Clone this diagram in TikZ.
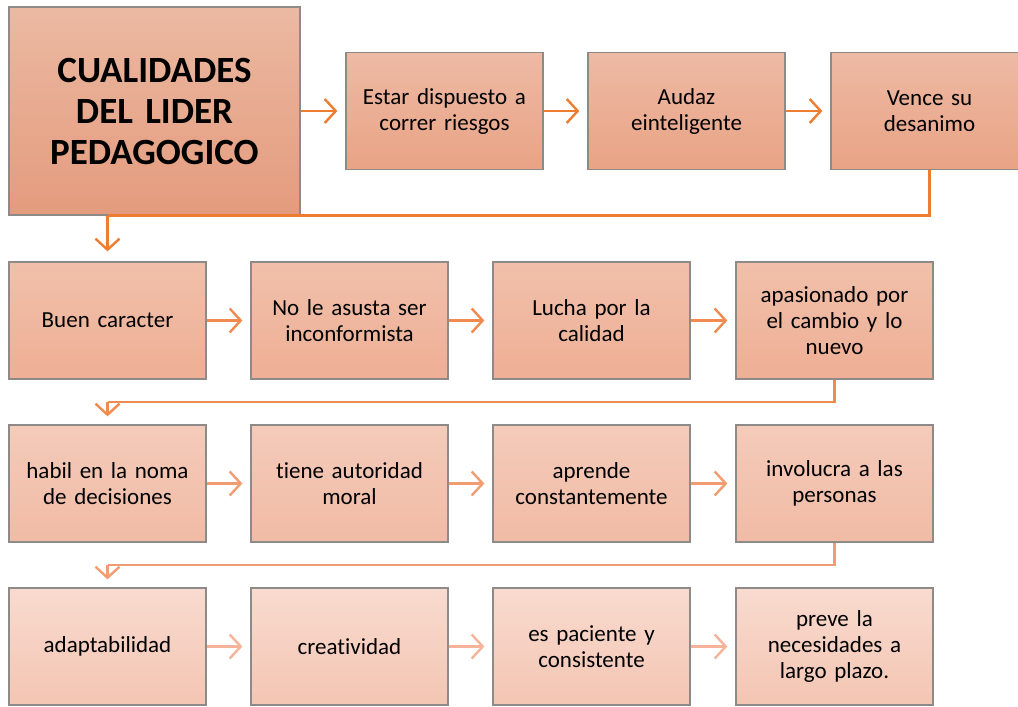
\documentclass[tikz,border=0pt]{standalone}
\usepackage{fontspec}
\setmainfont{Carlito}[Ligatures=NoCommon]
\usetikzlibrary{arrows.meta}
\definecolor{tA}{HTML}{EBB9A2}
\definecolor{tB}{HTML}{E49B7D}
\definecolor{rzA}{HTML}{EDBAA4}
\definecolor{rzB}{HTML}{E9A385}
\definecolor{roA}{HTML}{F1C0AA}
\definecolor{roB}{HTML}{EEAF95}
\definecolor{rtA}{HTML}{F4CBBA}
\definecolor{rtB}{HTML}{F1BBA5}
\definecolor{rhA}{HTML}{F8DBCF}
\definecolor{rhB}{HTML}{F4C5B3}
\definecolor{azero}{HTML}{ED7D31}
\definecolor{aone}{HTML}{EF8A50}
\definecolor{atwo}{HTML}{F29C72}
\definecolor{athree}{HTML}{F5B49A}
\definecolor{bord}{HTML}{8E8A88}
\begin{document}
\begin{tikzpicture}[x=1pt,y=-1pt,
  box/.style={rectangle,draw=bord,line width=1.3pt,minimum width=197pt,minimum height=117pt,
    text width=195pt,align=center,font=\fontsize{23}{26}\selectfont,inner sep=0pt},
  bz/.style={box,top color=rzA,bottom color=rzB},
  bo/.style={box,top color=roA,bottom color=roB},
  bt/.style={box,top color=rtA,bottom color=rtB},
  bh/.style={box,top color=rhA,bottom color=rhB},
  arr/.style={line width=2.4pt,-{Straight Barb[length=11pt,width=24pt]}},
  lnk/.style={line width=2.4pt},
]
\clip (0,0) rectangle (1018,707);
\fill[white] (0,0) rectangle (1018,707);
% title
\node[rectangle,draw=bord,line width=1.3pt,minimum width=291pt,minimum height=208pt,
  top color=tA,bottom color=tB,text width=285pt,align=center,inner sep=0pt,
  font=\fontsize{37}{41}\selectfont\bfseries] (title) at (154.5,111)
  {CUALIDADES\\DEL LIDER\\PEDAGOGICO};
% row 0
\node[bz] (estar) at (444.5,111) {Estar dispuesto a\\correr riesgos};
\node[bz] (audaz) at (686.5,111) {Audaz\\einteligente};
\node[bz] (vence) at (929.5,111) {Vence su\\desanimo};
% row 1
\node[bo] (buen) at (107.5,320.5) {Buen caracter};
\node[bo] (nole) at (349.5,320.5) {No le asusta ser\\inconformista};
\node[bo] (lucha) at (591.5,320.5) {Lucha por la\\calidad};
\node[bo] (apas) at (834.5,320.5) {apasionado por\\el cambio y lo\\nuevo};
% row 2
\node[bt] (habil) at (107.5,483.5) {habil en la noma\\de decisiones};
\node[bt] (tiene) at (349.5,483.5) {tiene autoridad\\moral};
\node[bt] (aprende) at (591.5,483.5) {aprende\\constantemente};
\node[bt] (invol) at (834.5,483.5) {involucra a las\\personas};
% row 3
\node[bh] (adapt) at (107.5,646.5) {adaptabilidad};
\node[bh] (creat) at (349.5,646.5) {creatividad};
\node[bh] (pac) at (591.5,646.5) {es paciente y\\consistente};
\node[bh] (prev) at (834.5,646.5) {preve la\\necesidades a\\largo plazo.};
% row 0 arrows
\draw[arr,azero,shorten >=8pt] (title.east |- estar.west) -- (estar.west);
\draw[arr,azero,shorten >=8pt] (estar) -- (audaz);
\draw[arr,azero,shorten >=8pt] (audaz) -- (vence);
% row 0 -> row 1
\coordinate (j0) at (buen.north |- title.south);
\draw[lnk,azero] (vence.south) |- (j0);
\draw[arr,azero,shorten >=10pt] (j0) -- (buen.north);
% row 1 arrows
\draw[arr,aone,shorten >=8pt] (buen) -- (nole);
\draw[arr,aone,shorten >=8pt] (nole) -- (lucha);
\draw[arr,aone,shorten >=8pt] (lucha) -- (apas);
% row 1 -> row 2
\coordinate (j1) at (107.5,402);
\draw[lnk,aone] (apas.south) |- (j1);
\draw[arr,aone,shorten >=8pt] (j1) -- (habil.north);
% row 2 arrows
\draw[arr,atwo,shorten >=8pt] (habil) -- (tiene);
\draw[arr,atwo,shorten >=8pt] (tiene) -- (aprende);
\draw[arr,atwo,shorten >=8pt] (aprende) -- (invol);
% row 2 -> row 3
\coordinate (j2) at (107.5,565);
\draw[lnk,atwo] (invol.south) |- (j2);
\draw[arr,atwo,shorten >=8pt] (j2) -- (adapt.north);
% row 3 arrows
\draw[arr,athree,shorten >=8pt] (adapt) -- (creat);
\draw[arr,athree,shorten >=8pt] (creat) -- (pac);
\draw[arr,athree,shorten >=8pt] (pac) -- (prev);
\end{tikzpicture}
\end{document}
